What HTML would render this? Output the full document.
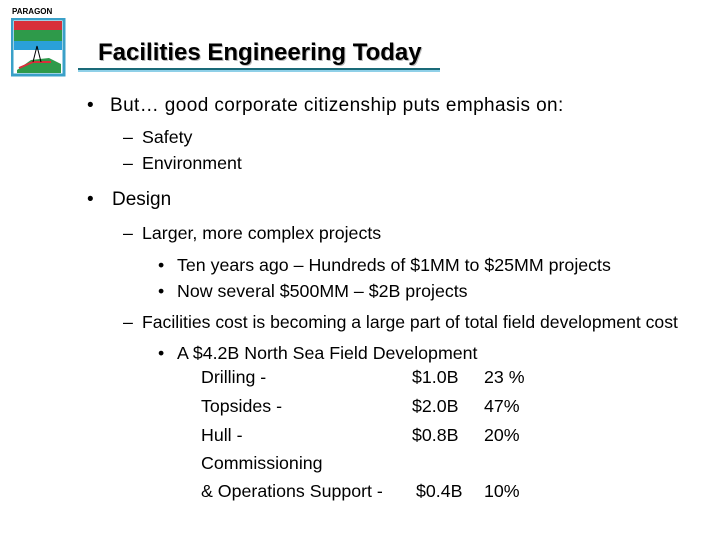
<!DOCTYPE html>
<html><head><meta charset="utf-8"><style>
body{margin:0;width:720px;height:540px;background:#fff;position:relative;overflow:hidden;font-family:"Liberation Sans",sans-serif;color:#000}
.t{position:absolute;white-space:nowrap;line-height:1}
.l1{font-size:19px}.l2{font-size:17.8px}
</style></head><body>
<div style="position:absolute;left:10px;top:6px;width:60px;height:72px">
<div class="t" style="left:2px;top:2px;font-size:8px;font-weight:bold">PARAGON</div>
<svg width="56" height="60" style="position:absolute;left:1px;top:12px">
<rect x="1" y="1" width="52" height="56" fill="#fff" stroke="#3aa0c8" stroke-width="3"/>
<rect x="3" y="3" width="48" height="9" fill="#d8303a"/>
<rect x="3" y="12" width="48" height="11" fill="#2e9a4a"/>
<rect x="3" y="23" width="48" height="9" fill="#2aa0d8"/>
<path d="M6 52 L20 42 L38 40 L50 46 L50 55 L6 55Z" fill="#2e9a4a"/>
<path d="M8 50 L22 44 L40 44" stroke="#d8303a" stroke-width="2" fill="none"/>
<path d="M22 44 L26 28 L30 44" stroke="#000" fill="none"/>
</svg></div>
<div class="t" style="left:98px;top:41px;font-size:24px;font-weight:bold;text-shadow:1px 1px 0 #bbb">Facilities Engineering Today</div>
<div style="position:absolute;left:78px;top:68px;width:362px;height:4px;background:linear-gradient(#1a6a78 50%,#8fd0e8 50%)"></div>

<div class="t l1" style="left:87px;top:96px">•</div>
<div class="t l1" style="left:110px;top:96px;letter-spacing:0.4px">But… good corporate citizenship puts emphasis on:</div>
<div class="t l2" style="left:123px;top:129px">–</div>
<div class="t l2" style="left:142px;top:129px">Safety</div>
<div class="t l2" style="left:123px;top:155px">–</div>
<div class="t l2" style="left:142px;top:155px">Environment</div>
<div class="t l1" style="left:87px;top:190px">•</div>
<div class="t l1" style="left:112px;top:190px">Design</div>
<div class="t l2" style="left:123px;top:225px">–</div>
<div class="t l2" style="left:142px;top:225px">Larger, more complex projects</div>
<div class="t l2" style="left:158px;top:257px">•</div>
<div class="t l2" style="left:177px;top:257px">Ten years ago – Hundreds of $1MM to $25MM projects</div>
<div class="t l2" style="left:158px;top:283px">•</div>
<div class="t l2" style="left:177px;top:283px">Now several $500MM – $2B projects</div>
<div class="t l2" style="left:123px;top:314px">–</div>
<div class="t l2" style="left:142px;top:314px;font-size:17.6px">Facilities cost is becoming a large part of total field development cost</div>
<div class="t l2" style="left:158px;top:345px">•</div>
<div class="t l2" style="left:177px;top:345px">A $4.2B North Sea Field Development</div>

<div class="t l2" style="left:201px;top:369px">Drilling -</div>
<div class="t l2" style="left:412px;top:369px">$1.0B</div>
<div class="t l2" style="left:484px;top:369px">23 %</div>
<div class="t l2" style="left:201px;top:398px">Topsides -</div>
<div class="t l2" style="left:412px;top:398px">$2.0B</div>
<div class="t l2" style="left:484px;top:398px">47%</div>
<div class="t l2" style="left:201px;top:427px">Hull -</div>
<div class="t l2" style="left:412px;top:427px">$0.8B</div>
<div class="t l2" style="left:484px;top:427px">20%</div>
<div class="t l2" style="left:201px;top:455px">Commissioning</div>
<div class="t l2" style="left:201px;top:483px">&amp; Operations Support -</div>
<div class="t l2" style="left:416px;top:483px">$0.4B</div>
<div class="t l2" style="left:484px;top:483px">10%</div>
</body></html>
